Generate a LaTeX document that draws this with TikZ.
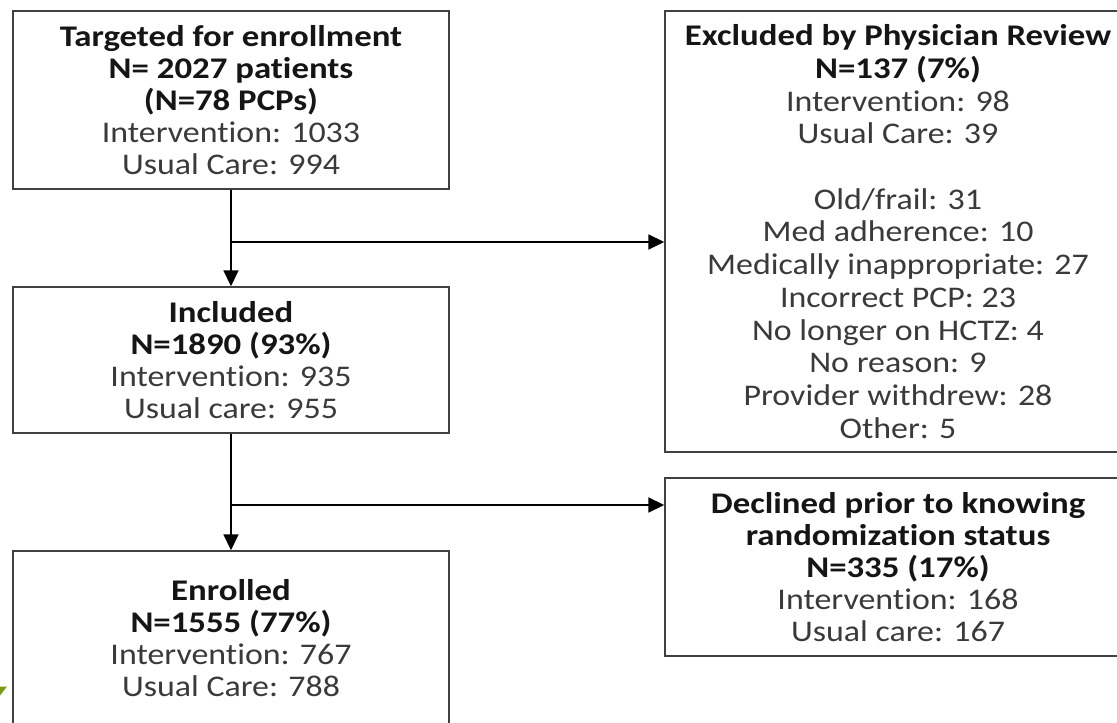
\documentclass[tikz,border=0pt]{standalone}
\usepackage{fontspec}
\setmainfont{Carlito}[FakeStretch=1.13, Ligatures=NoCommon, BoldFeatures={FakeStretch=1.16}]
\usetikzlibrary{arrows.meta,calc}
\definecolor{boxline}{HTML}{404040}
\definecolor{bodytext}{HTML}{3A3A3A}
\definecolor{headtext}{HTML}{151515}
\definecolor{cornergreen}{HTML}{7A9A1A}
\newcommand{\hd}[1]{\textcolor{headtext}{\bfseries #1}}
\tikzset{
  flowbox/.style={draw=boxline, line width=1.4pt, fill=white, inner sep=0pt,
    align=center, text=bodytext, anchor=center,
    font=\fontsize{30}{32}\selectfont},
  link/.style={draw=black, line width=1.8pt},
  arrowlink/.style={link, -{Triangle[length=16pt,width=15pt]}}
}
\begin{document}
\begin{tikzpicture}[x=1pt,y=-1pt]
\useasboundingbox (0,0) rectangle (1117,723);
\clip (0,0) rectangle (1117,723);
\fill[white] (0,0) rectangle (1117,723);

\node[flowbox, minimum width=436pt, minimum height=178pt] (b1) at (231,100)
  {\hd{Targeted for enrollment}\\ \hd{N= 2027 patients}\\ \hd{(N=78 PCPs)}\\ Intervention: 1033\\ Usual Care: 994};

\node[flowbox, minimum width=436pt, minimum height=146pt] (b2) at (231,360)
  {\hd{Included}\\ \hd{N=1890 (93\%)}\\ Intervention: 935\\ Usual care: 955};

\node[flowbox, minimum width=436pt, minimum height=175pt] (b3) at (231,638.5)
  {\hd{Enrolled}\\ \hd{N=1555 (77\%)}\\ Intervention: 767\\ Usual Care: 788};

\node[flowbox, minimum width=466pt, minimum height=441pt,
      font=\fontsize{30}{32.7}\selectfont] (ex) at (898,231.5)
  {\hd{Excluded by Physician Review}\\ \hd{N=137 (7\%)}\\ Intervention: 98\\ Usual Care: 39\\ ~\\
   Old/frail: 31\\ Med adherence: 10\\ Medically inappropriate: 27\\ Incorrect PCP: 23\\
   No longer on HCTZ: 4\\ No reason: 9\\ Provider withdrew: 28\\ Other: 5};

\node[flowbox, minimum width=466pt, minimum height=178pt] (dc) at (898,567)
  {\hd{Declined prior to knowing}\\ \hd{randomization status}\\ \hd{N=335 (17\%)}\\ Intervention: 168\\ Usual care: 167};

\coordinate (j1) at (231,242);
\coordinate (j2) at (231,505);

\draw[arrowlink] (b1.south) -- (b2.north);
\draw[arrowlink] (j1) -- (j1 -| ex.west);
\draw[arrowlink] (b2.south) -- (b3.north);
\draw[arrowlink] (j2) -- (j2 -| dc.west);

\fill[cornergreen] (0,686.5) -- (7,686.5) -- (0,695.5) -- cycle;
\end{tikzpicture}
\end{document}
